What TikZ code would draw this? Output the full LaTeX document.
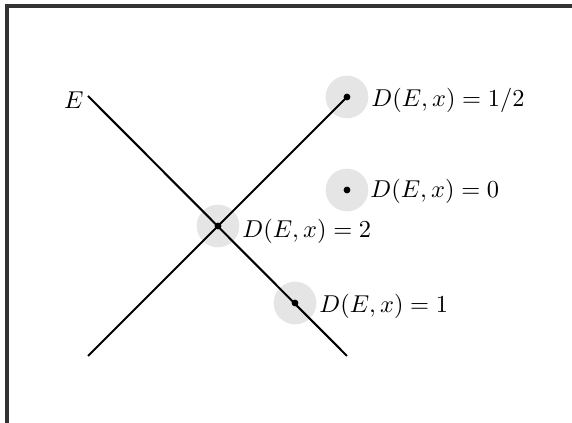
\documentclass[tikz,border=0pt]{standalone}
\begin{document}
\begin{tikzpicture}[x=0.41pt,y=-0.41pt,
  halo/.style={circle,fill=black!10,minimum size=17.5pt,inner sep=0pt},
  dot/.style={circle,fill=black,minimum size=2.8pt,inner sep=0pt},
  lbl/.style={anchor=west,inner sep=0pt,font=\fontsize{9.7}{11}\selectfont},
  ln/.style={line width=0.85pt},
  frame/.style={line width=1.3pt,draw=black!80}]
\useasboundingbox (0,0) rectangle (572,423);
\draw[frame] (7,423) -- (7,6) -- (572,6);
% halos
\node[halo] (h1) at (347,97) {};
\node[halo] (h0) at (347,190) {};
\node[halo] (h2) at (218,226) {};
\node[halo] (hh) at (295,303) {};
% lines
\coordinate (e1) at (88,96);
\coordinate (e2) at (347,356);
\coordinate (f1) at (88,356);
\draw[ln] (e1) -- (e2);
\draw[ln] (f1) -- (h1.center);
% dots
\node[dot] (d1) at (h1.center) {};
\node[dot] (d0) at (h0.center) {};
\node[dot] (d2) at (h2.center) {};
\node[dot] (dh) at (hh.center) {};
% labels
\node[anchor=east,inner sep=0pt,font=\fontsize{9.7}{11}\selectfont] (E) at (84,100) {$E$};
\node[lbl] (l1) at (371,100) {$D(E,x) = 1/2$};
\node[lbl] (l0) at (370,191) {$D(E,x) = 0$};
\node[lbl] (l2) at (242,231) {$D(E,x) = 2$};
\node[lbl] (lh) at (319,306) {$D(E,x) = 1$};
\end{tikzpicture}
\end{document}
